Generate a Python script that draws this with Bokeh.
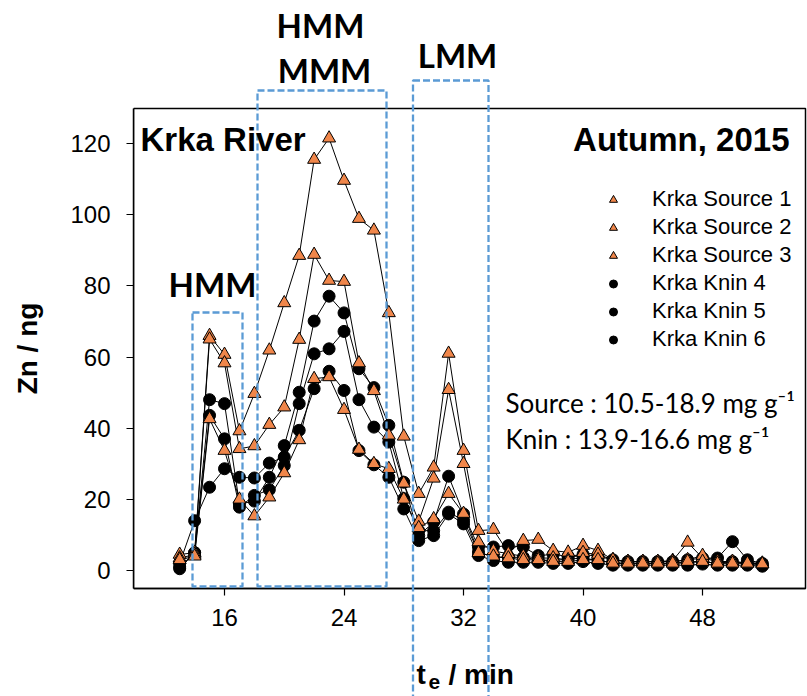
from bokeh.plotting import figure
from bokeh.models import (Range1d, Label, PolyAnnotation, Legend, LegendItem, FixedTicker,
                          BoxAnnotation)
from bokeh.embed import file_html
from bokeh.resources import INLINE

# ---------------- data ----------------
t_min = list(range(13, 53))

source_1 = [4.5, 5.0, 66.0, 60.7, 39.2, 49.7, 61.9, 75.2, 88.5, 115.5, 121.5, 109.6, 98.9, 95.6,
            72.4, 37.7, 21.6, 29.0, 61.0, 33.7, 11.2, 11.5, 5.0, 8.4, 8.7, 5.6, 5.1, 7.0, 5.6, 3.0,
            2.5, 2.5, 2.5, 2.8, 7.9, 3.5, 2.5, 2.5, 2.2, 2.0]
source_2 = [3.5, 4.5, 65.0, 58.3, 34.2, 35.0, 41.0, 45.9, 64.9, 88.8, 81.5, 81.2, 58.3, 50.5,
            38.0, 24.5, 13.8, 25.9, 50.8, 30.0, 8.0, 5.5, 4.7, 4.0, 3.5, 3.5, 3.0, 5.0, 4.5, 3.0,
            2.5, 2.5, 2.5, 2.5, 3.0, 4.2, 2.5, 2.5, 2.0, 2.0]
source_3 = [3.0, 4.0, 42.6, 33.7, 20.0, 15.3, 20.6, 27.4, 36.7, 53.9, 54.4, 45.2, 34.0, 30.0,
            28.6, 20.0, 12.0, 14.5, 21.6, 16.0, 5.0, 4.0, 3.5, 3.0, 3.0, 2.5, 2.5, 3.0, 3.0, 2.0,
            2.0, 2.0, 2.0, 2.0, 2.5, 2.5, 2.0, 2.0, 2.0, 1.8]
knin_4 = [1.0, 5.0, 48.0, 46.9, 18.7, 19.5, 26.2, 35.1, 50.1, 70.1, 77.1, 72.4, 56.7, 51.4,
          40.8, 24.8, 9.8, 13.6, 26.5, 15.9, 6.6, 6.6, 7.0, 6.6, 4.2, 4.5, 4.0, 4.5, 4.0, 3.0,
          2.5, 2.5, 2.5, 2.5, 3.0, 3.5, 3.5, 8.1, 3.0, 2.0]
knin_5 = [0.5, 5.0, 43.6, 37.0, 17.8, 21.1, 22.7, 29.5, 46.9, 60.9, 62.3, 67.2, 48.0, 40.3,
          36.1, 20.2, 11.2, 11.2, 16.4, 14.1, 5.2, 3.7, 3.7, 3.7, 3.0, 2.8, 3.2, 3.5, 2.8, 2.2,
          2.0, 2.0, 2.0, 2.0, 2.2, 2.5, 2.0, 2.5, 2.0, 1.5]
knin_6 = [2.0, 14.0, 23.4, 28.6, 26.2, 26.0, 30.2, 31.9, 39.4, 51.1, 56.0, 50.6, 33.7, 29.7,
          26.2, 17.3, 8.4, 9.8, 15.9, 13.1, 4.2, 2.8, 2.3, 2.3, 2.3, 2.0, 2.0, 2.5, 2.0, 1.5,
          1.5, 1.5, 1.5, 1.5, 1.5, 1.8, 1.5, 1.5, 1.5, 1.2]

source_names = ["Krka Source 1", "Krka Source 2", "Krka Source 3"]
knin_names = ["Krka Knin 4", "Krka Knin 5", "Krka Knin 6"]

x_ticks = [16, 24, 32, 40, 48]
y_ticks = [0, 20, 40, 60, 80, 100, 120]

# ---------------- layout helpers (pixel -> data) ----------------
W, H = 807, 696
FL, FR, FT, FB = 133, 805, 108, 588          # visible plot box, in pixels
X0_PX, X0, XS = 224.0, 16.0, 14.94
Y0_PX, YS = 570.0, 3.558


def dx(px):
    return X0 + (px - X0_PX) / XS


def dy(py):
    return (Y0_PX - py) / YS


# the drawing frame covers the whole canvas right of the y axis, so that the
# annotations above and below the plot box are not clipped
p = figure(width=W, height=H, output_backend="svg", toolbar_location=None,
           x_range=Range1d(dx(FL), dx(W)), y_range=Range1d(dy(H), dy(0)),
           min_border_left=FL, min_border_right=0, min_border_top=0,
           min_border_bottom=0)

p.xgrid.visible = False
p.ygrid.visible = False
p.outline_line_color = None
p.background_fill_color = "white"
p.border_fill_color = "white"

for ax in (p.xaxis[0], p.yaxis[0]):
    ax.axis_line_width = 1.5
    ax.axis_line_color = "black"
    ax.major_tick_in = 0
    ax.major_tick_out = 7
    ax.major_tick_line_width = 1.2
    ax.minor_tick_line_color = None
    ax.major_label_text_font = "Liberation Sans"
    ax.major_label_text_font_size = "24px"
    ax.major_label_text_color = "black"

p.xaxis.ticker = FixedTicker(ticks=x_ticks)
p.yaxis.ticker = FixedTicker(ticks=y_ticks)
p.xaxis.fixed_location = dy(FB)
p.xaxis.bounds = (dx(FL), dx(FR))
p.yaxis.bounds = (dy(FB), dy(FT))
p.xaxis.major_label_standoff = 13
p.yaxis.major_label_standoff = 16

p.yaxis.axis_label = "Zn / ng"
p.yaxis.axis_label_text_font = "Liberation Sans"
p.yaxis.axis_label_text_font_style = "bold"
p.yaxis.axis_label_text_font_size = "28px"
p.yaxis.axis_label_standoff = 24
p.yaxis.axis_label_text_color = "black"

# plot box (top and right edges; left and bottom are the axes)
p.add_layout(BoxAnnotation(left=dx(FL), right=dx(FR), bottom=dy(FB), top=dy(FT),
                           fill_alpha=0, fill_color=None, line_color="black",
                           line_alpha=1, line_width=1.5, level="underlay"))

# ---------------- series ----------------
orange = "#F0864A"
src_series = [source_1, source_2, source_3]
knin_series = [knin_4, knin_5, knin_6]

for ys in src_series + knin_series:
    p.line(t_min, ys, line_color="black", line_width=1)

knin_r = []
for ys in knin_series:
    knin_r.append(p.scatter(t_min, ys, marker="circle", size=12, fill_color="black",
                            line_color="black", line_width=1))
src_r = []
for ys in src_series:
    src_r.append(p.scatter(t_min, ys, marker="triangle", size=13, fill_color=orange,
                           line_color="black", line_width=1))

# ---------------- legend ----------------
items = [LegendItem(label=n, renderers=[r]) for n, r in zip(source_names, src_r)]
items += [LegendItem(label=n, renderers=[r]) for n, r in zip(knin_names, knin_r)]
legend = Legend(items=items, location=(470, H - 352.5), border_line_color=None,
                background_fill_alpha=0, padding=0, margin=0, glyph_width=20,
                glyph_height=27, label_height=27, spacing=1, label_standoff=29,
                label_text_font="Liberation Sans", label_text_font_size="22px",
                label_text_color="black")
p.add_layout(legend)

# ---------------- region boxes ----------------
box_style = dict(line_color="#5B9BD5", line_alpha=1.0, line_width=2.3, line_dash="7 3",
                 fill_alpha=0, fill_color=None)


def box(l, r, t, b):
    return PolyAnnotation(xs=[dx(l), dx(r), dx(r), dx(l)], ys=[dy(t), dy(t), dy(b), dy(b)],
                          **box_style)


p.add_layout(box(192, 242, 312, 586))
p.add_layout(box(257, 386, 90, 586))
p.add_layout(box(412.5, 488, 80, 720))

# ---------------- texts ----------------


def lab(px, py, text, size, font="Liberation Sans", style="normal", align="left"):
    p.add_layout(Label(x=dx(px), y=dy(py), text=text, text_font=font,
                       text_font_style=style, text_font_size=size, text_align=align,
                       text_baseline="alphabetic", text_color="black"))


lab(140, 139, "Krka River", "33px", style="bold")
lab(789, 139, "Autumn, 2015", "33px", style="bold", align="right")
lab(212, 283, "HMM", "33px", font="Lato", style="bold", align="center")
lab(320, 24, "HMM", "33px", font="Lato", style="bold", align="center")
lab(324, 69, "MMM", "33px", font="Lato", style="bold", align="center")
lab(457, 54, "LMM", "33px", font="Lato", style="bold", align="center")
lab(505, 402, "Source : 10.5-18.9 mg g\u207b\u00b9", "26px", font="Lato")
lab(505, 438, "Knin : 13.9-16.6 mg g\u207b\u00b9", "26px", font="Lato")
lab(416, 674, "t", "28px", style="bold")
lab(428, 681, "e", "21px", style="bold")
lab(448, 674, "/ min", "28px", style="bold")

open("out.html", "w").write(file_html(p, INLINE))
